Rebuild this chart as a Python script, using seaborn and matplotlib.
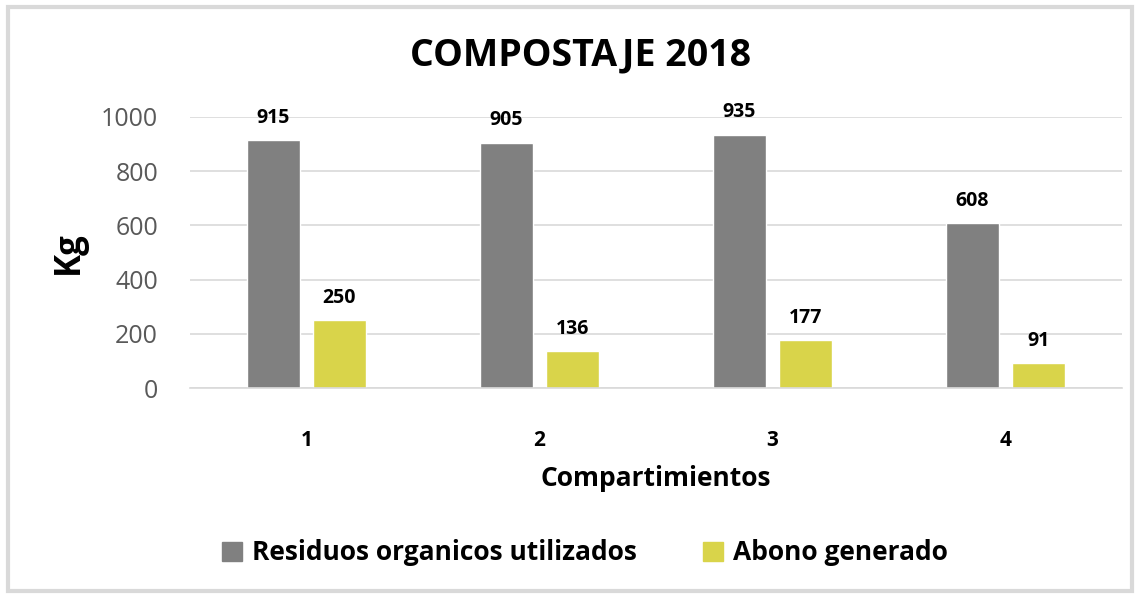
import pandas as pd
import numpy as np
import matplotlib.pyplot as plt
import seaborn as sns
from matplotlib.patches import Rectangle

compartimientos = ["1", "2", "3", "4"]
residuos = [915, 905, 935, 608]
abono = [250, 136, 177, 91]
series = ["Residuos organicos utilizados", "Abono generado"]
colores = ["#808080", "#D9D44A"]

df = pd.DataFrame({
    "compartimiento": compartimientos * 2,
    "kg": residuos + abono,
    "serie": [series[0]] * 4 + [series[1]] * 4,
})

sns.set_style("white")
plt.rcParams["font.family"] = ["Open Sans", "DejaVu Sans"]
plt.rcParams["text.color"] = "black"

fig = plt.figure(figsize=(11.4, 5.96), dpi=100)
ax = fig.add_axes([190 / 1140, 1 - 388 / 596, 932 / 1140, 271 / 596])

sns.barplot(data=df, x="compartimiento", y="kg", hue="serie", palette=colores,
            width=0.566, gap=0.21, ax=ax, saturation=1)

for cont in ax.containers:
    ax.bar_label(cont, padding=9, fontsize=14, fontweight="bold", color="black")

ax.set_ylim(0, 1000)
ax.set_yticks(range(0, 1001, 200))
ax.yaxis.grid(True, color="#D9D9D9", lw=1.2)
ax.set_axisbelow(True)
for s in ["top", "right", "left"]:
    ax.spines[s].set_visible(False)
ax.spines["bottom"].set_color("#D9D9D9")
ax.spines["bottom"].set_linewidth(1.2)
ax.tick_params(axis="y", length=0, labelsize=18, labelcolor="#595959", pad=23)
ax.tick_params(axis="x", length=0, labelsize=15, labelcolor="black", pad=30)
for t in ax.get_xticklabels():
    t.set_fontweight("bold")

ax.set_ylabel("Kg", fontsize=25, fontweight="bold", labelpad=10, color="black")
ax.set_xlabel("Compartimientos", fontsize=19, fontweight="bold", labelpad=10, color="black")

fig.text(580 / 1140, 1 - 55 / 596, "COMPOSTAJE 2018", ha="center", va="center",
         fontsize=27, fontweight="bold", color="black")

ax.legend_.remove()
handles = [Rectangle((0, 0), 1, 1, color=c) for c in colores]
fig.legend(handles, series, loc="center", bbox_to_anchor=(585 / 1140, 1 - 553 / 596),
           ncol=2, frameon=False, prop={"size": 19, "weight": "bold"},
           handlelength=0.75, handleheight=0.75, handletextpad=0.4, columnspacing=2.5)

fig.patches.append(Rectangle((8 / 1140, 5 / 596), 1124 / 1140, 584 / 596,
                             transform=fig.transFigure, fill=False,
                             edgecolor="#D9D9D9", lw=3))

fig.savefig("out.png", dpi=100)
